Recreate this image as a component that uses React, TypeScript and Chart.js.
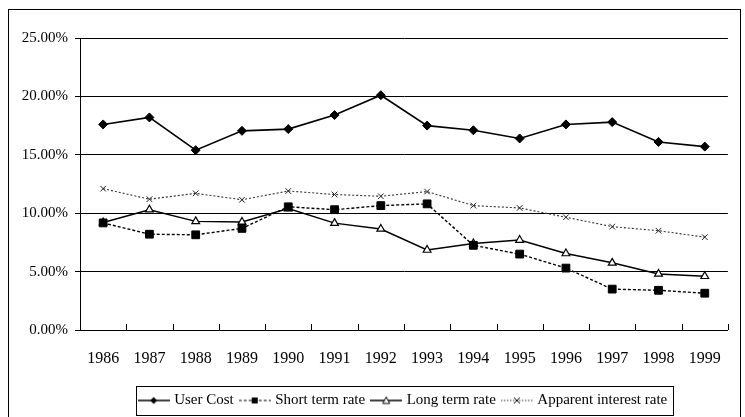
import React, { useEffect, useRef } from 'react';
import { Chart, registerables } from 'chart.js';

Chart.register(...registerables);

const years = ['1986', '1987', '1988', '1989', '1990', '1991', '1992', '1993', '1994', '1995', '1996', '1997', '1998', '1999'];
const userCost = [17.6, 18.2, 15.4, 17.05, 17.2, 18.4, 20.1, 17.5, 17.1, 16.4, 17.6, 17.8, 16.1, 15.7];
const shortTermRate = [9.17, 8.2, 8.15, 8.7, 10.55, 10.3, 10.65, 10.8, 7.25, 6.5, 5.3, 3.5, 3.4, 3.15];
const longTermRate = [9.2, 10.3, 9.3, 9.25, 10.4, 9.15, 8.65, 6.85, 7.4, 7.7, 6.55, 5.75, 4.8, 4.6];
const apparentInterestRate = [12.1, 11.2, 11.7, 11.15, 11.9, 11.6, 11.45, 11.85, 10.65, 10.45, 9.65, 8.85, 8.5, 7.95];
const seriesNames = ['User Cost', 'Short term rate', 'Long term rate', 'Apparent interest rate'];
const yMin = 0;
const yMax = 25;
const yStep = 5;

const FONT = '"Liberation Serif", "Times New Roman", serif';

type Kind = 'diamond' | 'square' | 'triangle' | 'cross';

function legendImage(kind: Kind, dash: number[], lineWidth: number, color: string) {
  const c = document.createElement('canvas');
  c.width = 32;
  c.height = 12;
  const g = c.getContext('2d')!;
  g.strokeStyle = color;
  g.lineWidth = lineWidth;
  g.setLineDash(dash);
  g.beginPath();
  g.moveTo(0, 6);
  g.lineTo(32, 6);
  g.stroke();
  g.setLineDash([]);
  g.lineWidth = 1;
  g.strokeStyle = '#000';
  g.fillStyle = '#000';
  const cx = 16;
  const cy = 6;
  g.beginPath();
  if (kind === 'diamond') {
    g.moveTo(cx - 3.5, cy);
    g.lineTo(cx, cy - 3.5);
    g.lineTo(cx + 3.5, cy);
    g.lineTo(cx, cy + 3.5);
    g.closePath();
    g.fill();
  } else if (kind === 'square') {
    g.rect(cx - 3, cy - 3, 6, 6);
    g.fill();
  } else if (kind === 'triangle') {
    g.fillStyle = '#fff';
    g.moveTo(cx, cy - 3.5);
    g.lineTo(cx + 3.5, cy + 3);
    g.lineTo(cx - 3.5, cy + 3);
    g.closePath();
    g.fill();
    g.stroke();
  } else {
    g.moveTo(cx - 3, cy - 3);
    g.lineTo(cx + 3, cy + 3);
    g.moveTo(cx + 3, cy - 3);
    g.lineTo(cx - 3, cy + 3);
    g.stroke();
  }
  return c;
}

const extrasPlugin = {
  id: 'extras',
  afterDraw(chart: any) {
    const { ctx, chartArea } = chart;
    const x = chart.scales.x;
    ctx.save();
    ctx.strokeStyle = '#000';
    ctx.lineWidth = 1;
    ctx.beginPath();
    const n = years.length;
    for (let i = 0; i < n; i++) {
      const px = i < n - 1 ? (x.getPixelForValue(i) + x.getPixelForValue(i + 1)) / 2 : chartArea.right;
      const ax = Math.round(px) + 0.5;
      ctx.moveTo(ax, chartArea.bottom);
      ctx.lineTo(ax, chartArea.bottom - 6);
    }
    ctx.stroke();
    const hb = chart.legend && chart.legend.legendHitBoxes;
    if (hb && hb.length) {
      const left = hb[0].left - 5;
      const last = hb[hb.length - 1];
      const right = last.left + last.width + 5;
      const top = hb[0].top + hb[0].height / 2 - 14.5;
      ctx.strokeRect(Math.round(left) + 0.5, Math.round(top) + 0.5, Math.round(right - left), 29);
    }
    ctx.restore();
  },
};

export default function App() {
  const ref = useRef<HTMLCanvasElement>(null);

  useEffect(() => {
    if (!ref.current) return;
    const images = [
      legendImage('diamond', [], 1.5, '#000'),
      legendImage('square', [3, 2], 1.2, '#000'),
      legendImage('triangle', [], 1.5, '#000'),
      legendImage('cross', [1.5, 1.5], 1, '#333'),
    ];
    const chart = new Chart(ref.current, {
      type: 'line',
      data: {
        labels: years,
        datasets: [
          {
            label: seriesNames[0],
            data: userCost,
            borderColor: '#000',
            backgroundColor: '#000',
            borderWidth: 1.6,
            pointStyle: 'rectRot',
            pointRadius: 4.5,
            pointBackgroundColor: '#000',
            pointBorderColor: '#000',
            pointBorderWidth: 1,
            tension: 0,
          },
          {
            label: seriesNames[1],
            data: shortTermRate,
            borderColor: '#000',
            backgroundColor: '#000',
            borderWidth: 1.4,
            borderDash: [3, 2],
            pointStyle: 'rect',
            pointRadius: 5.5,
            pointBackgroundColor: '#000',
            pointBorderColor: '#000',
            pointBorderWidth: 1,
            tension: 0,
          },
          {
            label: seriesNames[2],
            data: longTermRate,
            borderColor: '#000',
            backgroundColor: '#fff',
            borderWidth: 1.5,
            pointStyle: 'triangle',
            pointRadius: 4.5,
            pointBackgroundColor: '#fff',
            pointBorderColor: '#000',
            pointBorderWidth: 1.2,
            tension: 0,
          },
          {
            label: seriesNames[3],
            data: apparentInterestRate,
            borderColor: '#333',
            backgroundColor: '#333',
            borderWidth: 1.1,
            borderDash: [2, 2],
            pointStyle: 'crossRot',
            pointRadius: 4,
            pointBorderColor: '#222',
            pointBorderWidth: 1,
            tension: 0,
          },
        ],
      },
      options: {
        animation: false,
        responsive: false,
        devicePixelRatio: 1,
        events: [],
        layout: { padding: { top: 28, left: 0, right: 1, bottom: 12 } },
        scales: {
          x: {
            type: 'category',
            offset: true,
            grid: { display: false, drawTicks: false },
            border: { display: true, color: '#000', width: 1 },
            ticks: {
              color: '#000',
              font: { family: FONT, size: 16 },
              padding: 19,
              maxRotation: 0,
              autoSkip: false,
            },
            afterFit: (s: any) => {
              s.height = 55;
            },
          },
          y: {
            min: yMin,
            max: yMax,
            grid: { color: '#000', lineWidth: 1, drawTicks: true, tickLength: 5, tickColor: '#000' },
            border: { display: true, color: '#000', width: 1 },
            ticks: {
              stepSize: yStep,
              color: '#000',
              padding: 7,
              font: { family: FONT, size: 15 },
              callback: (v: any) => Number(v).toFixed(2) + '%',
            },
            afterFit: (s: any) => {
              s.width = 71;
            },
          },
        },
        plugins: {
          tooltip: { enabled: false },
          legend: {
            position: 'bottom',
            fullSize: false,
            labels: {
              color: '#000',
              font: { family: FONT, size: 15 },
              usePointStyle: true,
              pointStyleWidth: 26,
              boxHeight: 12,
              padding: 8,
              generateLabels: (ch: any) =>
                ch.data.datasets.map((ds: any, i: number) => ({
                  text: ds.label,
                  pointStyle: images[i],
                  fillStyle: '#000',
                  strokeStyle: '#000',
                  lineWidth: 0,
                  hidden: false,
                  datasetIndex: i,
                  fontColor: '#000',
                })),
            },
          },
        },
      },
      plugins: [extrasPlugin],
    });
    return () => chart.destroy();
  }, []);

  return (
    <div
      style={{
        position: 'fixed',
        left: 8,
        top: 9,
        width: 731,
        height: 420,
        border: '1px solid #000',
        background: '#fff',
      }}
    >
      <canvas ref={ref} width={731} height={420} style={{ display: 'block', width: 731, height: 420 }} />
    </div>
  );
}
